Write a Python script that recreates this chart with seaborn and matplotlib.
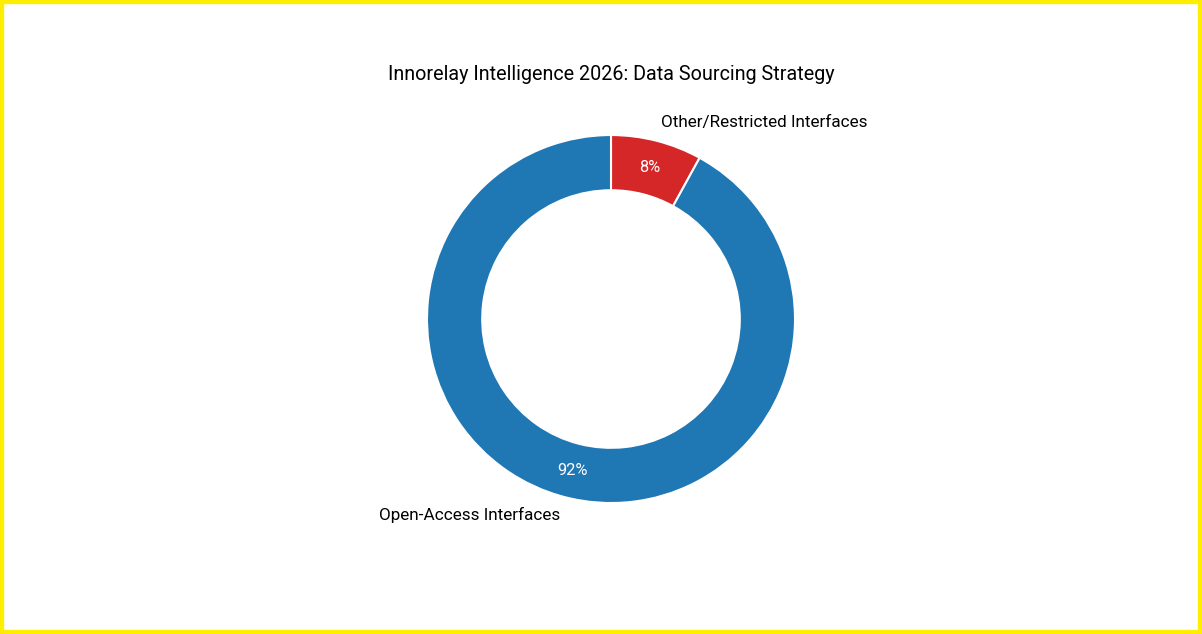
import matplotlib
matplotlib.use("Agg")
import matplotlib.pyplot as plt
import seaborn as sns
from matplotlib.patches import Rectangle

categories = ["Other/Restricted Interfaces", "Open-Access Interfaces"]
shares = [8, 92]
title = "Innorelay Intelligence 2026: Data Sourcing Strategy"

sns.set_theme(style="white")
plt.rcParams['font.family'] = ['Roboto', 'DejaVu Sans']

pal = sns.color_palette("tab10")
colors = [pal[3], pal[0]]

fig = plt.figure(figsize=(12.02, 6.34), dpi=100)
ax = fig.add_axes([0, 0.134, 1, 0.7256])
wedges, texts, autotexts = ax.pie(
    shares, labels=categories, colors=colors, startangle=90, counterclock=False,
    autopct=lambda p: f"{p:.0f}%", pctdistance=0.85, labeldistance=1.1,
    wedgeprops=dict(width=0.3, edgecolor="white", linewidth=1.5),
    textprops=dict(fontsize=12.3, color="black"))
for t in autotexts:
    t.set_color("white")
    t.set_fontsize(11.8)
ax.set_aspect("equal")
half = 1.25 * 1202 / 460
shift = 10 / 184
ax.set_xlim(-half - shift, half - shift)
ax.set_ylim(-1.25, 1.25)
ax.axis("off")
fig.text(0.5083, 1 - 75 / 634, title, ha="center", va="center", fontsize=14.2, color="black")
fig.patches.append(Rectangle((0, 0), 1, 1, transform=fig.transFigure, fill=False,
                             edgecolor="#FFEE00", linewidth=6, zorder=10))
fig.savefig("out.png", dpi=100, facecolor="white")
